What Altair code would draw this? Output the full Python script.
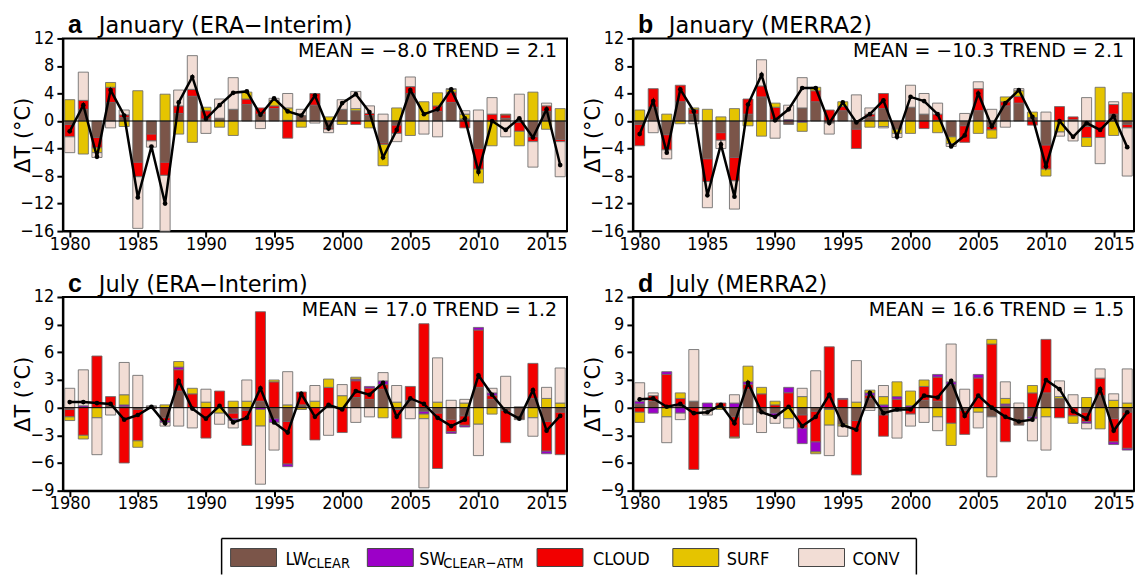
import altair as alt
import pandas as pd

YEARS = list(range(1980, 2017))

LEGEND_LABELS = ["LW", "SW", "CLOUD", "SURF", "CONV"]
COLORS = ["#7b5549", "#9c00c8", "#f20000", "#e5c400", "#f2ddd5"]
STACK_ORDER = {"LW": 0, "CLOUD": 1, "SW": 2, "SURF": 3, "CONV": 4}

# ---- panel a: January (ERA-Interim)
A_LW = [-0.5, 1.7, -2.4, 2.7, 0.5, -6.0, -1.9, -6.0, 1.1, 3.6, 0.3, 0.3, 1.7, 2.4, 1.0, 1.8, 0.1, 0.8, 2.3,
        -1.0, 1.7, 1.5, 0.8, -3.2, -0.6, 4.0, 0.0, 1.4, 2.7, 0.3, -4.0, 0.0, 0.4, -0.2, -2.3, 1.4, -2.7]
A_SW = [0.0] * 37
A_CLOUD = [-1.8, 1.3, -1.5, 2.2, 0.4, -2.1, -1.0, -1.9, 1.1, 1.0, 1.2, 0.1, 0.0, 0.8, 0.9, 0.4, -2.5, 0.0, 1.7,
           -0.2, 0.0, -0.5, 0.3, -0.2, -1.2, 1.0, 0.0, 0.8, 1.5, -1.0, -3.0, 1.0, 0.5, -1.3, -0.7, 0.8, -0.3]
A_SURF = [3.1, -4.8, -0.7, 0.7, -0.8, 4.4, 0.0, 3.9, -1.9, -3.1, 0.5, -0.9, -2.1, 1.0, 0.0, 0.8, 1.8, -0.9, 0.0,
          0.6, -0.5, 0.3, -1.0, -3.1, 1.9, -2.1, 2.8, 1.9, 0.4, 0.7, -2.0, -3.6, 0.1, -2.1, 4.2, -1.2, 1.8]
A_CONV = [-2.3, 4.1, -0.7, -1.0, 0.7, -7.5, -0.9, -8.1, 2.3, 4.9, -1.8, 2.8, 4.6, 0.0, -1.1, 0.3, 2.1, 0.9, -0.3,
          -0.5, 1.4, 2.5, 1.1, 1.0, -1.2, 1.4, -1.9, -2.3, 0.1, 0.5, 1.6, 2.4, -2.3, 3.9, -3.7, 0.4, -5.1]
A_TOTAL = [-1.5, 2.3, -5.2, 4.5, 0.8, -11.1, -3.7, -12.0, 2.7, 6.4, 0.3, 2.3, 4.1, 4.3, 0.9, 3.3, 1.4, 0.8, 3.7,
           -1.1, 2.6, 3.9, 1.3, -5.3, -1.3, 4.5, 1.0, 1.7, 4.6, 0.4, -7.4, 0.0, -1.3, 0.4, -2.4, 1.7, -6.4]

# ---- panel b: January (MERRA2)
B_LW = [-0.5, 2.0, -2.0, 2.8, 1.0, -5.5, -1.7, -5.3, 1.0, 3.5, 0.2, -0.5, 1.9, 2.8, -0.3, 1.5, -1.2, 0.6, 1.8,
        -1.2, 2.0, 1.0, 0.1, -2.3, -0.7, 1.5, -0.8, 2.2, 2.6, 0.5, -3.5, 0.0, 0.2, -0.8, 0.0, 1.0, -0.5]
B_SW = [0.0, 0.0, 0.0, 0.0, 0.0, 0.0, 0.0, 0.0, 0.0, 0.0, 0.0, 0.2, -0.2, 0.0, 0.0, 0.0, 0.0, 0.0, 0.0,
        0.0, 0.0, 0.0, 0.0, 0.0, 0.0, 0.0, 0.0, 0.0, 0.0, 0.0, 0.0, 0.0, 0.0, 0.0, 0.0, 0.0, 0.0]
B_CLOUD = [-3.1, 2.7, -2.2, 2.4, 0.7, -3.3, -1.1, -3.4, 2.2, 1.6, 1.8, 0.0, 0.0, 1.6, 1.6, 0.6, -2.8, 0.4, 2.2,
           0.0, 0.0, -1.1, 0.9, 0.0, -2.4, 3.2, -0.5, 0.6, 1.0, -0.6, -3.5, 2.1, 0.4, -1.6, -2.4, 1.4, -0.5]
B_SURF = [1.6, 0.0, 1.0, -0.4, 0.2, 1.7, 0.6, 1.8, -0.7, -2.2, 0.6, 0.0, -1.3, 0.5, 0.0, 0.7, 0.0, -0.9, -0.8,
          -0.6, -1.8, 0.0, -1.7, -1.0, 0.0, -1.8, -1.2, 0.7, 0.8, 0.8, -1.0, -1.6, 0.0, -1.3, 4.9, -2.1, 4.1]
B_CONV = [0.0, -1.7, -1.3, 0.0, -0.4, -3.8, -1.2, -4.1, 0.0, 3.8, -2.5, 2.1, 4.4, 0.0, -1.6, 0.0, 3.8, 0.9, -0.2,
          -0.6, 3.2, 3.0, 1.6, -0.4, 1.1, 1.0, 1.7, -0.9, 0.3, 0.0, 1.3, -0.6, -2.9, 3.4, -3.8, 0.4, -7.0]
B_TOTAL = [-1.9, 2.9, -4.6, 4.6, 1.4, -10.8, -3.4, -11.0, 2.4, 6.7, 0.1, 1.7, 4.8, 4.8, -0.3, 2.7, -0.2, 1.0, 3.0,
           -2.3, 3.5, 2.9, 1.0, -3.7, -2.1, 4.0, -0.8, 2.6, 4.5, 0.6, -6.6, 0.0, -2.3, -0.3, -1.3, 0.7, -3.8]

# ---- panel c: July (ERA-Interim)
C_LW = [-0.2, 0.0, 0.0, 0.2, 0.1, -0.2, 0.1, -1.1, 1.8, 0.0, 0.0, 0.0, -0.6, -0.3, 0.7, -1.2, -1.5, 0.3, 0.0,
        0.0, 0.0, 1.1, 0.9, 2.0, -0.2, 0.8, -0.4, -0.6, -1.3, -0.9, 2.2, 0.9, -0.3, -1.3, 1.0, -1.5, -0.5]
C_SW = [0.0, 0.2, 0.0, 0.0, 0.2, 0.0, 0.0, -0.2, 0.3, 0.0, 0.0, 0.0, -0.2, 0.0, -0.2, -0.4, -0.3, 0.0, 0.0,
        0.0, 0.0, 0.2, 0.2, 0.4, 0.0, 0.0, -0.3, 0.0, -0.2, -0.2, 0.3, 0.3, 0.0, 0.0, 0.0, -0.3, 0.0]
C_CLOUD = [-0.8, -3.0, 5.6, 1.0, -6.0, -3.4, -0.1, -0.3, 2.3, 1.5, -3.3, 1.8, -0.6, -3.8, 9.7, 2.8, -4.6, 1.4, -3.5,
           2.2, -2.7, 1.8, 1.2, 0.5, -3.1, 1.5, 9.1, -6.0, -1.3, -1.0, 6.2, 0.4, -3.5, 0.0, 3.8, -3.2, -4.6]
C_SURF = [-0.4, -0.4, -1.1, 0.0, 1.1, -0.7, 0.0, 0.3, 0.6, 0.6, 0.6, -0.6, 0.7, 0.7, -1.8, 0.2, 0.3, -0.2, 0.7,
          0.9, 1.3, 0.2, 0.0, -1.1, 0.6, 0.0, -0.5, 0.6, 0.0, 0.5, -1.8, -0.7, 0.0, 0.0, -1.1, 1.0, 0.5]
C_CONV = [2.1, 3.9, -4.0, -0.8, 3.5, 3.5, 0.1, -0.4, -2.0, -2.2, 1.4, -1.2, -0.8, 2.3, -6.3, -3.0, 3.6, 0.0, 1.7,
          -3.0, 1.2, -1.6, -1.0, 0.9, 1.8, -1.2, -7.5, 4.8, 0.8, 0.4, -3.4, 0.5, 3.4, 0.1, -2.0, 1.2, 3.8]
C_TOTAL = [0.6, 0.6, 0.5, 0.4, -1.3, -0.8, 0.1, -1.7, 2.9, -0.1, -1.2, 0.2, -1.6, -1.1, 2.1, -1.6, -2.7, 1.5, -1.0,
           0.3, -0.2, 1.8, 1.4, 2.7, -1.0, 1.0, 0.4, -1.1, -2.0, -1.3, 3.5, 1.4, -0.4, -1.2, 1.9, -2.5, -0.9]

# ---- panel d: July (MERRA2)
D_LW = [0.4, 0.7, 0.0, 0.3, 0.7, -0.2, 0.1, -1.0, 2.0, -0.5, -0.6, 0.0, -0.8, -0.4, -0.2, -1.8, -1.4, 1.0, -0.8,
        -0.4, 0.0, 0.8, 0.7, 2.5, -0.3, 0.0, -1.0, 0.2, -1.9, -1.0, 1.6, 1.0, 0.0, -0.5, 1.3, -1.2, -0.5]
D_SW = [0.3, -0.6, 0.3, -0.6, 0.0, 0.5, 0.0, 0.5, 0.3, 0.0, -0.3, 0.6, -1.7, -1.1, 0.0, 0.1, 0.0, 0.3, 0.3,
        0.3, 0.2, 0.0, 0.3, 0.3, 0.0, 0.4, 0.0, 0.2, 0.0, -0.2, 0.0, 0.0, 0.0, -0.2, 0.0, -0.3, -0.2]
D_CLOUD = [-0.5, 0.6, 3.6, 0.7, -6.7, 0.0, 0.4, -2.2, 0.5, 1.5, 0.3, 1.6, -1.4, -3.3, 6.6, 0.9, -5.9, 0.3, -2.3,
           0.9, -0.7, 1.5, 2.6, -1.7, -2.6, 3.2, 6.9, -3.7, 0.0, 1.6, 5.8, -1.1, -0.9, -1.0, 1.9, -2.5, -3.9]
D_SURF = [-1.1, 0.0, -1.0, 0.6, 0.0, 0.0, -0.2, -0.1, 1.7, 0.7, 0.4, -1.2, 1.2, -0.2, -1.7, -0.2, 0.6, 0.3, 0.9,
          1.6, 1.6, 0.7, -1.0, -2.4, 0.0, -0.5, 0.5, 0.6, 0.0, 0.8, -1.0, 0.2, -0.8, 1.1, -2.3, 0.8, 0.5]
D_CONV = [2.0, 0.3, -2.8, -0.7, 5.6, -0.6, 0.0, 0.9, -1.8, -2.2, -0.8, -1.0, 0.9, 4.0, -3.3, -1.1, 4.5, -0.3, 1.2,
          -2.9, -1.3, -1.6, -1.5, 4.1, 2.0, -1.7, -6.5, 1.8, 0.5, -2.4, -3.6, 1.7, 1.4, -0.6, 1.0, 0.7, 3.7]
D_TOTAL = [0.9, 1.0, 0.1, 0.4, -0.6, -0.5, 0.3, -1.7, 2.7, -0.5, -1.0, 0.1, -2.0, -1.0, 1.4, -1.9, -2.4, 1.6, -0.6,
           -0.2, -0.2, 1.3, 1.1, 2.9, -0.9, 1.3, 0.0, -1.0, -1.5, -1.3, 3.0, 2.0, -0.4, -1.2, 2.0, -2.5, -0.5]

TITLES = [("a", "January (ERA−Interim)", "MEAN = −8.0 TREND = 2.1"),
          ("b", "January (MERRA2)", "MEAN = −10.3 TREND = 2.1"),
          ("c", "July (ERA−Interim)", "MEAN = 17.0 TREND = 1.2"),
          ("d", "July (MERRA2)", "MEAN = 16.6 TREND = 1.5")]

NARROW = "Liberation Sans Narrow, DejaVu Sans Condensed, sans-serif"
WIDE = "DejaVu Sans"


def comp_frame(lw, sw, cl, sf, cv):
    recs = []
    for key, vals in zip(LEGEND_LABELS, [lw, sw, cl, sf, cv]):
        for yr, v in zip(YEARS, vals):
            recs.append({"year": yr, "comp": key, "order": STACK_ORDER[key], "value": v})
    return pd.DataFrame(recs)


def panel(idx, comps, total, ydom, ystep, width, height, extra=None):
    letter, label, mean_txt = TITLES[idx]
    xs = alt.Scale(domain=[1979.5, 2016.5], nice=False, zero=False)
    ys = alt.Scale(domain=ydom, nice=False, zero=False)
    xax = alt.Axis(values=list(range(1980, 2016, 5)), format="d", title=None, labelPadding=-2)
    yax = alt.Axis(values=list(range(ydom[0], ydom[1] + 1, ystep)), title="ΔT (°C)", titleX=-29)
    cscale = alt.Scale(domain=LEGEND_LABELS, range=COLORS)

    bars = (
        alt.Chart(comps)
        .transform_filter("datum.value != 0")
        .transform_stack(stack="value", groupby=["year"], as_=["v0", "v1"], offset="zero",
                         sort=[alt.SortField(field="order", order="ascending")])
        .transform_calculate(x0="datum.year - 0.37", x1="datum.year + 0.37")
        .mark_bar(stroke="#6a6a6a", strokeWidth=1, strokeOpacity=0.85)
        .encode(
            x=alt.X("x0:Q", scale=xs, axis=xax),
            x2="x1:Q",
            y=alt.Y("v0:Q", scale=ys, axis=yax),
            y2="v1:Q",
            color=alt.Color("comp:N", scale=cscale, legend=None),
        )
    )
    tdf = pd.DataFrame({"year": YEARS, "total": total})
    zero = alt.Chart(pd.DataFrame({"z": [0]})).mark_rule(color="black", strokeWidth=1).encode(
        y=alt.Y("z:Q", scale=ys, axis=yax))
    line = alt.Chart(tdf).mark_line(color="black", strokeWidth=2.5).encode(
        x=alt.X("year:Q", scale=xs, axis=xax), y=alt.Y("total:Q", scale=ys, axis=yax))
    pts = alt.Chart(tdf).mark_circle(color="black", size=22, opacity=1).encode(
        x=alt.X("year:Q", scale=xs, axis=xax), y=alt.Y("total:Q", scale=ys, axis=yax))
    tdata = pd.DataFrame({"letter": [letter], "label": [label], "mean": [mean_txt]})
    t_letter = alt.Chart(tdata).mark_text(font="Liberation Sans", fontSize=25, fontWeight="bold",
                                          align="left", baseline="alphabetic", color="black").encode(
        text="letter:N", x=alt.value(5), y=alt.value(-5))
    t_label = alt.Chart(tdata).mark_text(font=WIDE, fontSize=22.5, align="left",
                                         baseline="alphabetic", color="black").encode(
        text="label:N", x=alt.value(36), y=alt.value(-5))
    t_mean = alt.Chart(tdata).mark_text(font=WIDE, fontSize=19, align="right",
                                        baseline="alphabetic", color="black").encode(
        text="mean:N", x=alt.value(width - 10), y=alt.value(19))
    layers = [bars, zero, line, pts, t_letter, t_label, t_mean]
    if extra:
        layers += extra
    return alt.layer(*layers).properties(width=width, height=height)


def legend_layers():
    # positions relative to panel c plot origin
    layers = []
    frame = pd.DataFrame({"k": [0]})
    layers.append(alt.Chart(frame).mark_rule(color="black", strokeWidth=1.5).encode(
        x=alt.value(159), x2=alt.value(855), y=alt.value(242)))
    layers.append(alt.Chart(frame).mark_rule(color="black", strokeWidth=1.5).encode(
        x=alt.value(159), y=alt.value(242), y2=alt.value(278)))
    layers.append(alt.Chart(frame).mark_rule(color="black", strokeWidth=1.5).encode(
        x=alt.value(855), y=alt.value(242), y2=alt.value(278)))
    sw_x = [168, 305, 475, 611, 737]
    lab_x = [223, 357, 531, 665, 791]
    names = ["LW", "SW", "CLOUD", "SURF", "CONV"]
    subs = ["CLEAR", "CLEAR−ATM", "", "", ""]
    sub_x = [245, 381, 0, 0, 0]
    for i, name in enumerate(names):
        d = pd.DataFrame({"name": [name], "sub": [subs[i]]})
        layers.append(alt.Chart(d).mark_rect(fill=COLORS[i], stroke="#444444", strokeWidth=1).encode(
            x=alt.value(sw_x[i]), x2=alt.value(sw_x[i] + 46), y=alt.value(252), y2=alt.value(270)))
        layers.append(alt.Chart(d).mark_text(font=NARROW, fontSize=18, align="left",
                                             baseline="alphabetic", color="black").encode(
            text="name:N", x=alt.value(lab_x[i]), y=alt.value(268)))
        if subs[i]:
            layers.append(alt.Chart(d).mark_text(font=NARROW, fontSize=14.5, align="left",
                                                 baseline="alphabetic", color="black").encode(
                text="sub:N", x=alt.value(sub_x[i]), y=alt.value(271)))
    return layers


W_A, W_B, H = 505, 502, 193
pa = panel(0, comp_frame(A_LW, A_SW, A_CLOUD, A_SURF, A_CONV), A_TOTAL, [-16, 12], 4, W_A, H)
pb = panel(1, comp_frame(B_LW, B_SW, B_CLOUD, B_SURF, B_CONV), B_TOTAL, [-16, 12], 4, W_B, H)
pc = panel(2, comp_frame(C_LW, C_SW, C_CLOUD, C_SURF, C_CONV), C_TOTAL, [-9, 12], 3, W_A, 194,
           extra=legend_layers())
pd_ = panel(3, comp_frame(D_LW, D_SW, D_CLOUD, D_SURF, D_CONV), D_TOTAL, [-9, 12], 3, W_B, 194)

chart = (
    alt.concat(pa, pb, pc, pd_, columns=2, spacing=66, bounds="flush")
    .properties(padding={"left": 12, "top": 12, "right": 0, "bottom": 0}, background="white")
    .configure_view(stroke="black", strokeWidth=2)
    .configure_axis(labelFont=NARROW, labelFontSize=18, labelColor="black", tickColor="black",
                    tickWidth=2, tickSize=6, domainColor="black", domainWidth=2, grid=False,
                    titleFont=WIDE, titleFontSize=21, titleFontWeight="normal", titleColor="black",
                    labelPadding=3, titlePadding=3)
)

chart.save("out.html", embed_options={"renderer": "svg", "actions": False})
